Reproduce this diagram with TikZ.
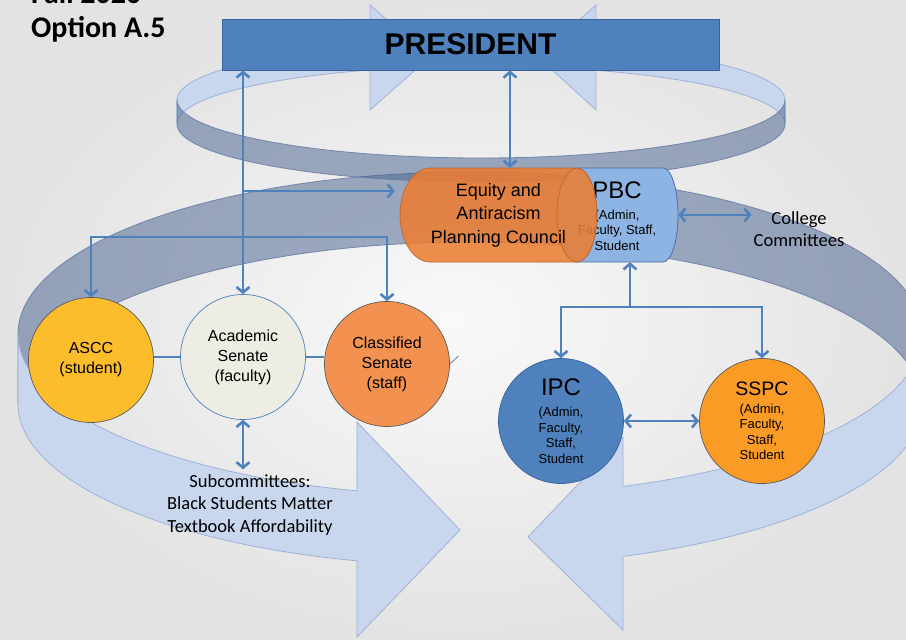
\documentclass[tikz,border=0pt]{standalone}
\usepackage{fontspec}
\setmainfont{Liberation Sans}
\newfontfamily\calibrifont{Carlito}
\usetikzlibrary{arrows.meta}

\definecolor{presfill}{HTML}{4F81BD}
\definecolor{presedge}{HTML}{3A6399}
\definecolor{linkblue}{HTML}{4F81BD}
\definecolor{ribbonlight}{HTML}{C9D7EE}
\definecolor{ribbonlightedge}{HTML}{9DB2D7}
\definecolor{ribbondark}{HTML}{4A6491}
\definecolor{ribbondarkedge}{HTML}{6A7FA6}
\definecolor{asccfill}{HTML}{FCBD2C}
\definecolor{acadfill}{HTML}{EEEDE3}
\definecolor{classfill}{HTML}{F39150}
\definecolor{ipcfill}{HTML}{4F81BD}
\definecolor{sspcfill}{HTML}{F99B25}
\definecolor{equityfill}{HTML}{ED7D31}
\definecolor{equityedge}{HTML}{B9652E}
\definecolor{pbcfill}{HTML}{8DB4E2}
\definecolor{pbcedge}{HTML}{4A6FA5}
\definecolor{circleedge}{HTML}{5A5A5A}
\definecolor{bgin}{HTML}{F9F9F9}
\definecolor{bgout}{HTML}{E3E3E3}

\begin{document}
\begin{tikzpicture}[x=1pt,y=-1pt,
  link/.style={draw=linkblue, line width=2.6pt},
  >={Straight Barb[length=5.5pt,width=13pt]},
  light ribbon/.style={fill=ribbonlight, draw=ribbonlightedge, line width=0.8pt},
  dark ribbon/.style={fill=ribbondark, fill opacity=0.52, draw=ribbondarkedge, draw opacity=0.9, line width=0.8pt},
  council/.style={circle, minimum size=125pt, inner sep=0pt, align=center, draw=circleedge, line width=0.7pt},
  senatefont/.style={font=\fontsize{16}{20}\selectfont},
  planfont/.style={font=\fontsize{13}{15.5}\selectfont},
  note/.style={font=\calibrifont\fontsize{18.5}{22.5}\selectfont, align=center, inner sep=0pt},
  heading/.style={anchor=base west, inner sep=0pt, font=\calibrifont\bfseries\fontsize{30}{30}\selectfont},
]
\useasboundingbox (0,0) rectangle (906,640);
\shade[inner color=bgin, outer color=bgout] (0,0) rectangle (906,640);

% large circular arrow: far side of the ribbon
\path[dark ribbon] (18,334) arc[start angle=180,end angle=360,x radius=452,y radius=162]
  -- ++(0,70) arc[start angle=360,end angle=180,x radius=452,y radius=162] -- cycle;

% small circular arrow round the president: far side with its two heads
\path[light ribbon] (177,100) arc[start angle=180,end angle=248.6,x radius=304,y radius=58]
  -- (370,5) -- (430,57) -- (370,110) -- (370,70)
  arc[start angle=248.6,end angle=180,x radius=304,y radius=58] -- cycle;
\path[light ribbon] (785,100) arc[start angle=360,end angle=292.2,x radius=304,y radius=58]
  -- (596,5) -- (538,57) -- (596,110) -- (596,70.3)
  arc[start angle=292.2,end angle=360,x radius=304,y radius=58] -- cycle;
% small circular arrow: near side
\path[dark ribbon] (177,100) arc[start angle=180,end angle=0,x radius=304,y radius=58]
  -- (785,124) arc[start angle=0,end angle=180,x radius=304,y radius=58] -- cycle;

% large circular arrow: near side, two arms meeting head to head
\path[light ribbon] (18,334) arc[start angle=180,end angle=104.48,x radius=452,y radius=162]
  -- (357,422) -- (460,530) -- (357,637) -- (357,560.8)
  arc[start angle=104.48,end angle=180,x radius=452,y radius=162] -- cycle;
\path[light ribbon] (922,334) arc[start angle=0,end angle=70.21,x radius=452,y radius=162]
  -- (623,437) -- (528,537) -- (623,630) -- (623,556.4)
  arc[start angle=70.21,end angle=0,x radius=452,y radius=162] -- cycle;

% headings
\node[heading] (fall) at (31,3.5) {Fall 2020};
\node[heading] (option) at (31,37) {Option A.5};

% president
\node[fill=presfill, draw=presedge, line width=0.8pt, minimum width=497pt, minimum height=51pt,
      inner sep=0pt, font=\bfseries\fontsize{30}{30}\selectfont] (pres) at (470.5,44.5) {PRESIDENT};

% PBC cylinder
\path[fill=pbcfill, draw=pbcedge, line width=0.8pt] (577,168) -- (663,168)
  arc[start angle=-90,end angle=90,x radius=15,y radius=47] -- (577,262)
  arc[start angle=90,end angle=270,x radius=20,y radius=47] -- cycle;
\node[inner sep=0pt, minimum width=121pt, minimum height=94pt] (pbc) at (617.5,215) {};
\node[planfont, align=center, inner sep=0pt] (pbctext) at (617,216)
  {{\fontsize{24}{24}\selectfont PBC}\\[5pt](Admin,\\Faculty, Staff,\\Student};

% Equity and Antiracism cylinder, translucent over PBC
\path[fill=equityfill, fill opacity=0.86, draw=equityedge, line width=0.6pt] (430,168) -- (577,168)
  arc[start angle=-90,end angle=90,x radius=20,y radius=47] -- (430,262)
  arc[start angle=90,end angle=270,x radius=30,y radius=47] -- cycle;
\draw[equityedge, line width=0.6pt, draw opacity=0.8] (577,215) ellipse[x radius=20, y radius=47];
\node[font=\fontsize{18}{23.5}\selectfont, align=center, inner sep=0pt,
      minimum width=197pt, minimum height=94pt] (eq) at (498.5,215)
  {Equity and\\Antiracism\\Planning Council};

% senates and planning committees
\node[council, fill=asccfill, senatefont] (ascc) at (91,360) {ASCC\\(student)};
\node[council, fill=acadfill, draw=presfill, senatefont] (acad) at (243,357) {Academic\\Senate\\(faculty)};
\node[council, fill=classfill, senatefont] (class) at (387,364) {Classified\\Senate\\(staff)};
\node[council, fill=ipcfill, draw=presedge, planfont] (ipc) at (561,421)
  {{\fontsize{24}{24}\selectfont IPC}\\[5.5pt](Admin,\\Faculty,\\Staff,\\Student};
\node[council, fill=sspcfill, planfont] (sspc) at (762,421)
  {{\fontsize{19.5}{20}\selectfont SSPC}\\[2pt](Admin,\\Faculty,\\Staff,\\Student};

% free labels
\node[note] (coll) at (799,229) {College\\Committees};
\node[note] (sub) at (250,505) {Subcommittees:\\Black Students Matter\\Textbook Affordability};

% connectors
\coordinate (hub) at (243,191);
\coordinate (fork) at (243,237);
\coordinate (pbcfork) at (630,307);
\coordinate (presx) at ([xshift=11.5pt]eq.north);

\draw[link,<->] (pres.south -| presx) -- (presx);
\draw[link,<->] (pres.south -| acad.north) -- (acad.north);
\draw[link,->,shorten >=5pt] (hub) -- (hub -| eq.west);
\draw[link,->] (fork) -| (ascc.north);
\draw[link,->] (fork) -| (class.north);
\draw[link] (acad.west) -- (acad.west -| ascc.east);
\draw[link] (acad.east) -- (acad.east -| class.west);
\draw[link,<->,shorten >=5pt] (acad.south) -- (acad.south |- sub.north);
\draw[link,<->,shorten >=2pt] (pbc.east) -- (pbc.east -| coll.west);
\draw[link,->] (pbcfork) -- (pbcfork |- pbc.south);
\draw[link,->] (pbcfork) -| (ipc.north);
\draw[link,->] (pbcfork) -| (sspc.north);
\draw[link,<->] (ipc.east) -- (sspc.west);
\draw[ribbondarkedge, line width=0.8pt] (class.east) -- ++(8.5,-8);
\end{tikzpicture}
\end{document}
